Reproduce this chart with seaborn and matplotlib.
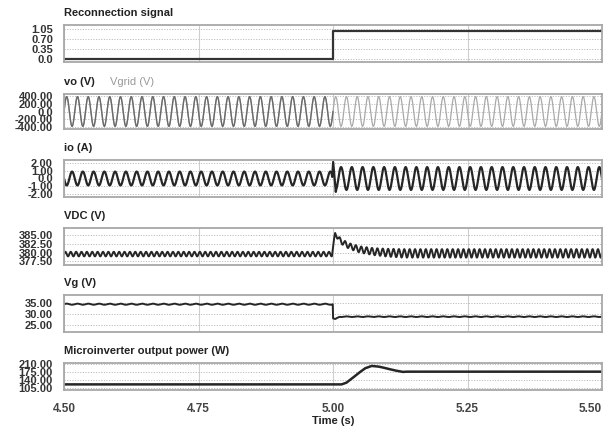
import numpy as np
import pandas as pd
import matplotlib
matplotlib.use("Agg")
import matplotlib.pyplot as plt
import seaborn as sns

# ---------------- data ----------------
t_start, t_end = 4.5, 5.5
t_reconnect = 5.0
line_freq_hz = 50
ripple_freq_hz = 100
x_ticks = [4.50, 4.75, 5.00, 5.25, 5.50]
x_tick_labels = ["4.50", "4.75", "5.00", "5.25", "5.50"]

# Reconnection signal
reconnect_t = [4.5, 5.0, 5.0, 5.5]
reconnect_v = [0.0, 0.0, 1.0, 1.0]

# vo / vgrid amplitudes
vo_amplitude = 390.0
vgrid_amplitude = 390.0

# io envelope and transient at reconnection
io_env_t = [4.5, 4.997, 5.006, 5.5]
io_env_amp = [0.88, 0.88, 1.45, 1.45]
io_trans_t = [4.9985, 5.0003, 5.0052]
io_trans_v = [0.2, 2.1, -1.7]

# Vdc mean level and 100 Hz ripple envelope
vdc_key_t = [4.5, 4.998, 5.004, 5.015, 5.03, 5.05, 5.075, 5.10, 5.13, 5.5]
vdc_mean = [379.6, 379.6, 385.3, 383.2, 381.9, 380.9, 380.3, 380.0, 379.8, 379.8]
vdc_ripple = [0.65, 0.65, 0.5, 0.7, 0.8, 0.9, 1.0, 1.1, 1.2, 1.2]

# Vg (PV voltage)
vg_key_t = [4.5, 4.9995, 5.0, 5.004, 5.012, 5.5]
vg_level = [34.3, 34.3, 27.8, 27.4, 28.6, 28.6]
vg_ripple = [0.25, 0.25, 0.1, 0.1, 0.15, 0.15]

# Microinverter output power
p_t = [4.5, 5.016, 5.025, 5.037, 5.05, 5.06, 5.072, 5.085, 5.093, 5.105, 5.118, 5.13, 5.137, 5.5]
p_v = [122.5, 122.5, 130.0, 151.8, 176.0, 193.0, 203.0, 200.0, 196.0, 189.0, 182.0, 177.0, 178.0, 178.0]

# axis ranges / ticks
panels = [
    dict(title="Reconnection signal", ylim=(-0.1, 1.2), yticks=[0.0, 0.35, 0.70, 1.05],
         ylabels=["0.0", "0.35", "0.70", "1.05"]),
    dict(title="vo (V)", ylim=(-460, 460), yticks=[-400, -200, 0, 200, 400],
         ylabels=["-400.00", "-200.00", "0.0", "200.00", "400.00"]),
    dict(title="io (A)", ylim=(-2.35, 2.35), yticks=[-2, -1, 0, 1, 2],
         ylabels=["-2.00", "-1.00", "0.0", "1.00", "2.00"]),
    dict(title="VDC (V)", ylim=(376.5, 387.0), yticks=[377.5, 380, 382.5, 385],
         ylabels=["377.50", "380.00", "382.50", "385.00"]),
    dict(title="Vg (V)", ylim=(21.6, 38.5), yticks=[25, 30, 35],
         ylabels=["25.00", "30.00", "35.00"]),
    dict(title="Microinverter output power (W)", ylim=(98, 218), yticks=[105, 140, 175, 210],
         ylabels=["105.00", "140.00", "175.00", "210.00"]),
]

# ---------------- build series ----------------
t = np.linspace(t_start, t_end, 20001)
w = 2 * np.pi * line_freq_hz
wr = 2 * np.pi * ripple_freq_hz

df_rec = pd.DataFrame({"t": reconnect_t, "v": reconnect_v})

vgrid = vgrid_amplitude * np.sin(w * t)
vo = vo_amplitude * np.sin(w * t)
m_before = t <= t_reconnect
df_vgrid = pd.DataFrame({"t": t, "v": vgrid})
df_vo = pd.DataFrame({"t": t[m_before], "v": vo[m_before]})

io = np.interp(t, io_env_t, io_env_amp) * np.sin(w * t + np.pi)
keep = (t < 4.9975) | (t > 5.0058)
io_t = np.concatenate([t[keep], io_trans_t])
io_v = np.concatenate([io[keep], io_trans_v])
order = np.argsort(io_t)
df_io = pd.DataFrame({"t": io_t[order], "v": io_v[order]})

vdc = np.interp(t, vdc_key_t, vdc_mean) + np.interp(t, vdc_key_t, vdc_ripple) * np.sin(wr * t)
df_vdc = pd.DataFrame({"t": t, "v": vdc})

vg = np.interp(t, vg_key_t, vg_level) + np.interp(t, vg_key_t, vg_ripple) * np.sin(w * t)
df_vg = pd.DataFrame({"t": t, "v": vg})

df_p = pd.DataFrame({"t": p_t, "v": p_v})

# ---------------- figure ----------------
sns.set_theme(style="white")
plt.rcParams["font.family"] = ["Liberation Sans", "DejaVu Sans"]

W, H = 612, 430
fig = plt.figure(figsize=(W / 100, H / 100), dpi=100)

left_px, right_px = 64, 602
boxes = [(25, 62), (94, 129), (160, 197), (228, 265), (295, 332), (362.5, 390)]
axes = []
for top, bot in boxes:
    ax = fig.add_axes([left_px / W, 1 - bot / H, (right_px - left_px) / W, (bot - top) / H])
    axes.append(ax)

kw = dict(x="t", y="v", estimator=None, errorbar=None, legend=False)
sns.lineplot(data=df_rec, ax=axes[0], color="#333333", lw=1.6, **kw)
sns.lineplot(data=df_vgrid, ax=axes[1], color="#a9a9a9", lw=0.9, **kw)
sns.lineplot(data=df_vo, ax=axes[1], color="#6a6a6a", lw=1.0, **kw)
sns.lineplot(data=df_io, ax=axes[2], color="#262626", lw=1.6, **kw)
sns.lineplot(data=df_vdc, ax=axes[3], color="#262626", lw=1.4, **kw)
sns.lineplot(data=df_vg, ax=axes[4], color="#262626", lw=1.4, **kw)
sns.lineplot(data=df_p, ax=axes[5], color="#262626", lw=1.8, **kw)

for i, (ax, p) in enumerate(zip(axes, panels)):
    ax.set_xlim(t_start, t_end)
    ax.set_ylim(*p["ylim"])
    ax.set_yticks(p["yticks"])
    ax.set_yticklabels(p["ylabels"])
    ax.set_xticks(x_ticks)
    ax.set_xlabel("")
    ax.set_ylabel("")
    ax.tick_params(axis="both", length=0, labelsize=8, colors="#333333")
    ax.tick_params(axis="y", pad=8)
    ax.tick_params(axis="x", pad=9)
    for lbl in ax.get_yticklabels():
        lbl.set_fontweight("bold")
    if i < 5:
        ax.set_xticklabels([])
    else:
        ax.set_xticklabels(x_tick_labels, fontweight="bold", color="#444444", fontsize=8.5)
        ax.get_xticklabels()[-1].set_horizontalalignment("right")
    ax.xaxis.grid(True, color="#cfcfcf", lw=0.8, ls="-")
    ax.yaxis.grid(True, color="#bdbdbd", lw=0.7, ls=(0, (1.2, 1.5)))
    ax.set_axisbelow(True)
    for s in ax.spines.values():
        s.set_color("#a8a8a8")
        s.set_linewidth(1.3)
    top = boxes[i][0]
    fig.text(left_px / W, 1 - (top - 12) / H, p["title"], fontsize=8, fontweight="bold",
             color="#222222", ha="left", va="center")

fig.text(110 / W, 1 - (94 - 12) / H, "Vgrid (V)", fontsize=8, color="#9a9a9a",
         ha="left", va="center")

axes[5].set_xlabel("Time (s)", fontsize=8, fontweight="bold", color="#222222", labelpad=1)

fig.savefig("out.png", dpi=100)
